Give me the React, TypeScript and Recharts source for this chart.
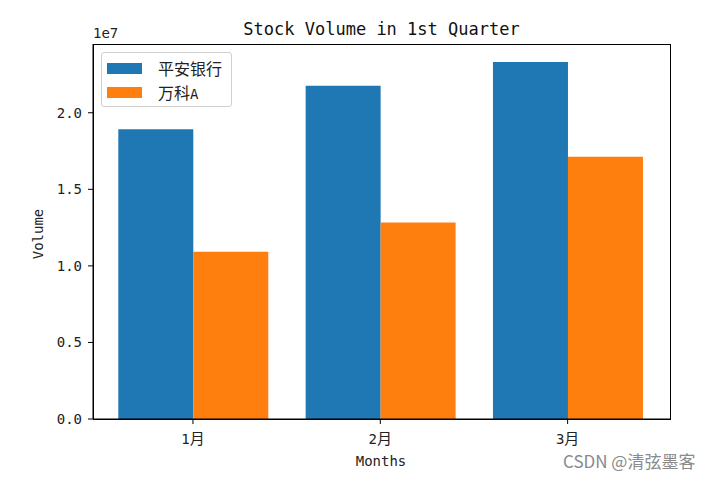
import React from 'react';
import { BarChart, Bar, XAxis, YAxis } from 'recharts';

const months = ['1月', '2月', '3月'];
const pinganVolume = [18930000, 21770000, 23320000];
const vankeVolume = [10920000, 12840000, 17120000];
const yTicks = [0, 5000000, 10000000, 15000000, 20000000];
const seriesNames = ['平安银行', '万科A'];

const data = months.map((m, i) => ({ month: m, pingan: pinganVolume[i], vanke: vankeVolume[i] }));

const MONO = '"DejaVu Sans Mono", "Liberation Mono", monospace';
const CJK = '"Noto Sans CJK SC", "Noto Sans", sans-serif';

const XTick = (props: any) => {
  const { x, y, payload } = props;
  const s: string = payload.value;
  const num = s.replace('月', '');
  return (
    <text x={x} y={y} dy="0.85em" textAnchor="middle" fill="#222">
      <tspan fontFamily={MONO} fontSize={14}>{num}</tspan>
      <tspan fontFamily={CJK} fontSize={15}>月</tspan>
    </text>
  );
};

export default function App() {
  const W = 714;
  const H = 478;
  const left = 93;
  const top = 44;
  const right = 670;
  const bottom = 419;
  return (
    <div style={{ position: 'fixed', left: 0, top: 0, width: W, height: H, background: '#fff' }}>
      <BarChart
        width={W}
        height={H}
        data={data}
        margin={{ top: top, right: W - right, bottom: 0, left: 0 }}
        barGap={0}
        barSize={75}
      >
        <XAxis
          dataKey="month"
          height={H - bottom}
          padding={{ left: 6.3, right: 8.7 }}
          tickSize={5}
          tickMargin={6}
          tick={<XTick />}
          axisLine={{ stroke: '#000' }}
          tickLine={{ stroke: '#000' }}
        />
        <YAxis
          width={left}
          domain={[0, 24490000]}
          ticks={yTicks}
          allowDataOverflow
          tickSize={5}
          tickMargin={6}
          tickFormatter={(v: number) => (v / 10000000).toFixed(1)}
          tick={{ fontFamily: MONO, fontSize: 14, fill: '#222' }}
          axisLine={{ stroke: '#000' }}
          tickLine={{ stroke: '#000' }}
        />
        <Bar dataKey="pingan" name={seriesNames[0]} fill="#1f77b4" isAnimationActive={false} />
        <Bar dataKey="vanke" name={seriesNames[1]} fill="#ff7f0e" isAnimationActive={false} />
      </BarChart>
      {/* frame */}
      <div
        style={{
          position: 'absolute',
          left: left - 0.5,
          top: top - 0.5,
          width: right - left + 1,
          height: bottom - top + 1,
          border: '1px solid #000',
          boxSizing: 'border-box',
          pointerEvents: 'none',
        }}
      />
      {/* title */}
      <div
        style={{
          position: 'absolute',
          left: left,
          width: right - left,
          top: 18,
          textAlign: 'center',
          fontFamily: MONO,
          fontSize: 17,
          lineHeight: '22px',
          color: '#111',
          whiteSpace: 'pre',
        }}
      >
        Stock Volume in 1st Quarter
      </div>
      {/* offset text */}
      <div style={{ position: 'absolute', left: 93, top: 25, fontFamily: MONO, fontSize: 14, lineHeight: '16px', color: '#222' }}>
        1e7
      </div>
      {/* y label */}
      <div
        style={{
          position: 'absolute',
          left: 38,
          top: 234,
          transform: 'translate(-50%, -50%) rotate(-90deg)',
          fontFamily: MONO,
          fontSize: 14,
          lineHeight: '16px',
          color: '#222',
          whiteSpace: 'nowrap',
        }}
      >
        Volume
      </div>
      {/* x label */}
      <div
        style={{
          position: 'absolute',
          left: 381,
          top: 461,
          transform: 'translate(-50%, -50%)',
          fontFamily: MONO,
          fontSize: 14,
          lineHeight: '16px',
          color: '#222',
          whiteSpace: 'nowrap',
        }}
      >
        Months
      </div>
      {/* legend */}
      <div
        style={{
          position: 'absolute',
          left: 101,
          top: 52,
          width: 131,
          height: 55,
          border: '1px solid #d0d0d0',
          borderRadius: 3,
          background: 'rgba(255,255,255,0.8)',
          boxSizing: 'border-box',
        }}
      />
      <div style={{ position: 'absolute', left: 107, top: 63, width: 35, height: 11, background: '#1f77b4' }} />
      <div style={{ position: 'absolute', left: 107, top: 87, width: 35, height: 11, background: '#ff7f0e' }} />
      <div style={{ position: 'absolute', left: 158, top: 58, fontFamily: CJK, fontSize: 16, lineHeight: '20px', color: '#222' }}>
        {seriesNames[0]}
      </div>
      <div style={{ position: 'absolute', left: 158, top: 82, fontFamily: CJK, fontSize: 16, lineHeight: '20px', color: '#222' }}>
        万科<span style={{ fontFamily: MONO, fontSize: 14 }}>A</span>
      </div>
      {/* watermark */}
      <div
        style={{
          position: 'absolute',
          left: 563,
          top: 450,
          fontFamily: CJK,
          fontSize: 17,
          lineHeight: '22px',
          color: '#8a8a8a',
          whiteSpace: 'nowrap',
        }}
      >
        CSDN @清弦墨客
      </div>
    </div>
  );
}
